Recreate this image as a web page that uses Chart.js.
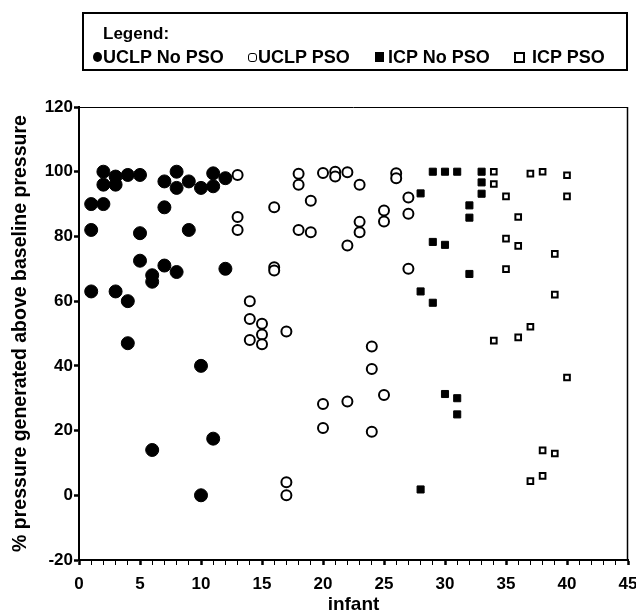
<!DOCTYPE html>
<html>
<head>
<meta charset="utf-8">
<script src="https://cdn.jsdelivr.net/npm/chart.js@4/dist/chart.umd.min.js"></script>
<style>
html,body{margin:0;padding:0;background:#fff;}
#wrap{position:relative;width:636px;height:616px;overflow:hidden;}
#c{position:absolute;left:0;top:0;}
#lgbox{position:absolute;left:82px;top:12px;width:542px;height:55px;border:2px solid #000;}
.lt{position:absolute;font:bold 18px 'Liberation Sans',Arial,sans-serif;color:#000;line-height:18px;white-space:nowrap;}
.mk{position:absolute;box-sizing:border-box;}
</style>
</head>
<body>
<div id="wrap">
<canvas id="c" width="636" height="616"></canvas>
<div id="lgbox"></div>
<div class="lt" style="left:103px;top:25px;font-size:17px;">Legend:</div>
<div class="mk" style="left:93px;top:52px;width:9px;height:10px;border-radius:50%;background:#000;"></div>
<div class="lt" style="left:103px;top:48px;">UCLP No PSO</div>
<div class="mk" style="left:248px;top:53px;width:9px;height:9px;border-radius:3px;border:1.5px solid #000;background:#fff;"></div>
<div class="lt" style="left:258px;top:48px;">UCLP PSO</div>
<div class="mk" style="left:375px;top:52px;width:9px;height:10px;background:#000;"></div>
<div class="lt" style="left:388px;top:48px;">ICP No PSO</div>
<div class="mk" style="left:514px;top:52px;width:11px;height:11px;border:2px solid #000;background:#fff;"></div>
<div class="lt" style="left:532px;top:48px;">ICP PSO</div>
</div>
<script>
const FONT = "'Liberation Sans', Arial, sans-serif";

// Series: UCLP No PSO (filled circles)
const uclpNoPsoX = [1,1,1,2,2,2,3,3,3,4,4,4,5,5,5,6,6,6,7,7,7,8,8,8,9,9,10,10,10,11,11,11,12,12];
const uclpNoPsoY = [90,82,63,100,96,90,98.5,96,63,99,60,47,99,81,72.5,68,66,14,97,89,71,100,95,69,97,82,95,40,0,99.5,95.5,17.5,98,70];

// Series: UCLP PSO (open circles)
const uclpPsoX = [13,13,13,14,14,14,15,15,15,16,16,16,17,17,17,18,18,18,19,19,20,20,20,21,21,22,22,22,23,23,23,24,24,24,25,25,25,26,26,27,27,27];
const uclpPsoY = [99,86,82,60,54.5,48,53,49.7,46.7,89,70.5,69.5,50.6,4,0,99.4,96,82,91,81.3,99.6,28.2,20.8,100,98.5,99.8,77.2,29,96,84.5,81.3,46,39,19.6,88,84.6,31,99.5,98,92,87,70];

// Series: ICP No PSO (filled squares)
const icpNoPsoX = [28,28,28,29,29,29,30,30,30,31,31,31,32,32,32,33,33,33];
const icpNoPsoY = [93.3,63,1.8,100,78.3,59.5,100,77.4,31.3,100,30,25,89.6,85.8,68.4,100,96.7,93.2];

// Series: ICP PSO (open squares)
const icpPsoX = [34,34,34,35,35,35,36,36,36,37,37,37,38,38,38,39,39,39,40,40,40];
const icpPsoY = [100,96.2,47.8,92.4,79.3,69.9,86,77.1,48.8,99.4,52.1,4.4,100,13.9,6,74.6,62,12.9,98.9,92.4,36.4];

// Axes
const xMin = 0, xMax = 45, xMajorStep = 5;
const yMin = -20, yMax = 120, yStep = 20;
const xTitle = 'infant';
const yTitle = '% pressure generated above baseline pressure';

function pts(xs, ys){ return xs.map((x,i)=>({x:x, y:ys[i]})); }

const framePlugin = {
  id:'frame',
  afterDraw(chart){
    const {left,top,right,bottom} = chart.chartArea;
    const ctx = chart.ctx;
    ctx.save();
    ctx.strokeStyle = '#000';
    ctx.lineWidth = 1;
    ctx.beginPath();
    ctx.moveTo(left, top+0.5); ctx.lineTo(right, top+0.5);
    ctx.stroke();
    ctx.lineWidth = 1.5;
    ctx.beginPath();
    ctx.moveTo(right-0.5, top); ctx.lineTo(right-0.5, bottom);
    ctx.stroke();
    ctx.restore();
  }
};

new Chart(document.getElementById('c'), {
  type:'scatter',
  data:{
    datasets:[
      {label:'UCLP No PSO', data:pts(uclpNoPsoX,uclpNoPsoY), pointStyle:'circle', pointRadius:6.5, backgroundColor:'#000', borderColor:'#000', borderWidth:1},
      {label:'UCLP PSO', data:pts(uclpPsoX,uclpPsoY), pointStyle:'circle', pointRadius:5, backgroundColor:'#fff', borderColor:'#000', borderWidth:2},
      {label:'ICP No PSO', data:pts(icpNoPsoX,icpNoPsoY), pointStyle:'rect', pointRadius:5, backgroundColor:'#000', borderColor:'#000', borderWidth:1},
      {label:'ICP PSO', data:pts(icpPsoX,icpPsoY), pointStyle:'rect', pointRadius:4, backgroundColor:'#fff', borderColor:'#000', borderWidth:2}
    ]
  },
  options:{
    responsive:false,
    animation:false,
    devicePixelRatio:1,
    layout:{padding:{top:107,left:0,right:8,bottom:0}},
    plugins:{legend:{display:false}, tooltip:{enabled:false}},
    scales:{
      x:{
        type:'linear', min:xMin, max:xMax,
        afterFit(s){ s.height = 56; s.paddingRight = 0; s.paddingLeft = 0; },
        ticks:{stepSize:1, autoSkip:false, maxRotation:0, color:'#000', padding:9,
          font:{family:FONT,size:17,weight:'bold'},
          callback:(v)=> (v % xMajorStep === 0 ? String(v) : '')},
        grid:{drawOnChartArea:false, drawTicks:true, tickLength:5, tickColor:'#000',
          tickWidth:(c)=> (c.tick && c.tick.value % xMajorStep === 0 ? 2.5 : 1)},
        border:{display:true, color:'#000', width:2},
        title:{display:true, text:xTitle, color:'#000', font:{family:FONT,size:19,weight:'bold'}, padding:{top:0,bottom:0}}
      },
      y:{
        min:yMin, max:yMax,
        afterFit(s){ s.width = 79; },
        ticks:{stepSize:yStep, color:'#000', padding:1, font:{family:FONT,size:17,weight:'bold'}},
        grid:{drawOnChartArea:false, drawTicks:true, tickLength:5, tickColor:'#000', tickWidth:2.5},
        border:{display:true, color:'#000', width:2},
        title:{display:true, text:yTitle, color:'#000', font:{family:FONT,size:19.5,weight:'bold'}, padding:{top:9,bottom:0}}
      }
    }
  },
  plugins:[framePlugin]
});
</script>
</body>
</html>
